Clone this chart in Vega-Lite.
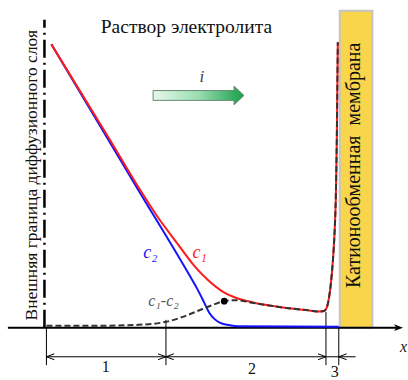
{
  "$schema": "https://vega.github.io/schema/vega-lite/v6.json",
  "width": 408,
  "height": 380,
  "autosize": {"type": "fit", "contains": "padding"},
  "padding": 0,
  "background": "white",
  "config": {"view": {"stroke": null}},
  "datasets": {
    "membrane": [{"x": 299, "c": 0, "x2": 332, "c2": 322}],
    "arrow": [
      {"x": 110, "c": 241, "c2": 231},
      {"x": 191.9, "c": 241, "c2": 231},
      {"x": 192, "c": 245.5, "c2": 226.5},
      {"x": 202, "c": 236, "c2": 236}
    ],
    "axis": [{"x": -37, "c": 0, "x2": 356, "c2": 0}],
    "axisHead": [{"x": 358.5, "c": 0}],
    "boundary": [{"x": 0, "c": 0, "x2": 0, "c2": 313}],
    "dims": [
      {"x": 2, "c": 0, "x2": 2, "c2": -38},
      {"x": 123, "c": 8, "x2": 123, "c2": -38},
      {"x": 285, "c": 16, "x2": 285, "c2": -38},
      {"x": 298, "c": 0, "x2": 298, "c2": -38},
      {"x": 2, "c": -29.5, "x2": 315, "c2": -29.5},
      {"x": 2, "c": -29.5, "x2": 10, "c2": -26.5},
      {"x": 2, "c": -29.5, "x2": 10, "c2": -32.5},
      {"x": 123, "c": -29.5, "x2": 115, "c2": -26.5},
      {"x": 123, "c": -29.5, "x2": 115, "c2": -32.5},
      {"x": 123, "c": -29.5, "x2": 131, "c2": -26.5},
      {"x": 123, "c": -29.5, "x2": 131, "c2": -32.5},
      {"x": 285, "c": -29.5, "x2": 277, "c2": -26.5},
      {"x": 285, "c": -29.5, "x2": 277, "c2": -32.5},
      {"x": 298, "c": -29.5, "x2": 306, "c2": -26.5},
      {"x": 298, "c": -29.5, "x2": 306, "c2": -32.5}
    ],
    "blue": [
      {"x": 7, "c": 288}, {"x": 95, "c": 140}, {"x": 147, "c": 53}, {"x": 155, "c": 39},
      {"x": 162, "c": 25}, {"x": 167, "c": 15}, {"x": 172, "c": 9}, {"x": 178, "c": 5},
      {"x": 185, "c": 3}, {"x": 195, "c": 1.5}, {"x": 298, "c": 1}
    ],
    "red": [
      {"x": 7, "c": 288}, {"x": 65, "c": 193}, {"x": 95, "c": 143}, {"x": 115, "c": 112},
      {"x": 135, "c": 85}, {"x": 150, "c": 65}, {"x": 165, "c": 49}, {"x": 180, "c": 37},
      {"x": 195, "c": 30}, {"x": 210, "c": 26}, {"x": 225, "c": 23}, {"x": 245, "c": 20},
      {"x": 265, "c": 18}, {"x": 278, "c": 16.5}, {"x": 283, "c": 17}, {"x": 286, "c": 21},
      {"x": 288, "c": 30}, {"x": 290, "c": 45}, {"x": 292, "c": 68}, {"x": 294, "c": 103},
      {"x": 295, "c": 133}, {"x": 296, "c": 193}, {"x": 296.5, "c": 243}, {"x": 297, "c": 290}
    ],
    "diff": [
      {"x": 2, "c": 2}, {"x": 55, "c": 2}, {"x": 95, "c": 3}, {"x": 123, "c": 6},
      {"x": 140, "c": 11}, {"x": 155, "c": 17}, {"x": 170, "c": 23}, {"x": 182, "c": 27},
      {"x": 195, "c": 28}, {"x": 210, "c": 25.5}, {"x": 225, "c": 23}, {"x": 245, "c": 20},
      {"x": 265, "c": 18}, {"x": 278, "c": 16.5}, {"x": 283, "c": 17}, {"x": 286, "c": 21},
      {"x": 288, "c": 30}, {"x": 290, "c": 45}, {"x": 292, "c": 68}, {"x": 294, "c": 103},
      {"x": 295, "c": 133}, {"x": 296, "c": 193}, {"x": 296.5, "c": 243}, {"x": 297, "c": 290}
    ],
    "dot": [{"x": 182, "c": 27}],
    "topText": [{"t": "Раствор электролита", "x": 57, "c": 299}],
    "leftText": [{"t": "Внешняя граница диффузионного слоя", "x": -8, "c": 155}],
    "memText": [{"t": "Катионообменная\u00a0 мембрана", "x": 319, "c": 165}],
    "iText": [{"t": "i", "x": 157, "c": 250}],
    "c2Text": [{"t": "c₂", "x": 100, "c": 71}],
    "c1Text": [{"t": "c₁", "x": 150, "c": 71}],
    "diffText": [{"t": "c₁-c₂", "x": 105, "c": 22}],
    "digits": [{"t": "1", "x": 62, "c": -45}, {"t": "2", "x": 210, "c": -47}, {"t": "3", "x": 294, "c": -50}],
    "xText": [{"t": "x", "x": 360, "c": -25}]
  },
  "encoding": {
    "x": {"field": "x", "type": "quantitative", "scale": {"domain": [-45, 363], "nice": false, "zero": false}, "axis": null},
    "y": {"field": "c", "type": "quantitative", "scale": {"domain": [-47, 333], "nice": false, "zero": false}, "axis": null}
  },
  "layer": [
    {
      "data": {"name": "membrane"},
      "mark": {"type": "rect", "fill": "#F9D54B", "stroke": "#C4C4C4", "strokeWidth": 2},
      "encoding": {"x2": {"field": "x2"}, "y2": {"field": "c2"}}
    },
    {
      "data": {"name": "memText"},
      "mark": {"type": "text", "font": "Liberation Serif", "fontSize": 20, "angle": 270, "align": "center", "baseline": "alphabetic", "color": "#111"},
      "encoding": {"text": {"field": "t"}}
    },
    {
      "data": {"name": "leftText"},
      "mark": {"type": "text", "font": "Liberation Serif", "fontSize": 17.5, "angle": 270, "align": "center", "baseline": "alphabetic", "color": "#111"},
      "encoding": {"text": {"field": "t"}}
    },
    {
      "data": {"name": "topText"},
      "mark": {"type": "text", "font": "Liberation Serif", "fontSize": 19.5, "align": "left", "baseline": "alphabetic", "color": "#111"},
      "encoding": {"text": {"field": "t"}}
    },
    {
      "data": {"name": "iText"},
      "mark": {"type": "text", "font": "Liberation Serif", "fontSize": 17, "fontStyle": "italic", "align": "left", "baseline": "alphabetic", "color": "#444"},
      "encoding": {"text": {"field": "t"}}
    },
    {
      "data": {"name": "arrow"},
      "mark": {
        "type": "area",
        "stroke": "#6B8A74",
        "strokeWidth": 1,
        "fill": {"gradient": "linear", "x1": 0, "x2": 1, "y1": 0, "y2": 0,
          "stops": [{"offset": 0, "color": "#E6F7EB"}, {"offset": 0.5, "color": "#9ADDB0"}, {"offset": 1, "color": "#17A04A"}]},
        "opacity": 1
      },
      "encoding": {"y2": {"field": "c2"}}
    },
    {
      "data": {"name": "axis"},
      "mark": {"type": "rule", "color": "black", "strokeWidth": 2},
      "encoding": {"x2": {"field": "x2"}, "y2": {"field": "c2"}}
    },
    {
      "data": {"name": "axisHead"},
      "mark": {"type": "point", "shape": "M1,0L-1,-0.75L-0.5,0L-1,0.75Z", "filled": true, "size": 81, "color": "black", "opacity": 1},
      "encoding": {}
    },
    {
      "data": {"name": "boundary"},
      "mark": {"type": "rule", "color": "black", "strokeWidth": 2.5, "strokeDash": [18, 5, 2, 5]},
      "encoding": {"x2": {"field": "x2"}, "y2": {"field": "c2"}}
    },
    {
      "data": {"name": "dims"},
      "mark": {"type": "rule", "color": "black", "strokeWidth": 1},
      "encoding": {"x2": {"field": "x2"}, "y2": {"field": "c2"}}
    },
    {
      "data": {"name": "blue"},
      "mark": {"type": "line", "color": "#1414FF", "strokeWidth": 2, "interpolate": "monotone"},
      "encoding": {}
    },
    {
      "data": {"name": "red"},
      "mark": {"type": "line", "color": "#FF1A1A", "strokeWidth": 2, "interpolate": "monotone"},
      "encoding": {}
    },
    {
      "data": {"name": "diff"},
      "mark": {"type": "line", "color": "#333333", "strokeWidth": 2, "strokeDash": [6, 3], "interpolate": "monotone"},
      "encoding": {}
    },
    {
      "data": {"name": "dot"},
      "mark": {"type": "circle", "size": 45, "color": "black", "opacity": 1},
      "encoding": {}
    },
    {
      "data": {"name": "c2Text"},
      "mark": {"type": "text", "font": "Liberation Serif", "fontSize": 18, "fontStyle": "italic", "align": "left", "baseline": "alphabetic", "color": "#1414FF"},
      "encoding": {"text": {"field": "t"}}
    },
    {
      "data": {"name": "c1Text"},
      "mark": {"type": "text", "font": "Liberation Serif", "fontSize": 18, "fontStyle": "italic", "align": "left", "baseline": "alphabetic", "color": "#FF1A1A"},
      "encoding": {"text": {"field": "t"}}
    },
    {
      "data": {"name": "diffText"},
      "mark": {"type": "text", "font": "Liberation Serif", "fontSize": 16, "fontStyle": "italic", "align": "left", "baseline": "alphabetic", "color": "#555555"},
      "encoding": {"text": {"field": "t"}}
    },
    {
      "data": {"name": "digits"},
      "mark": {"type": "text", "font": "Liberation Serif", "fontSize": 16, "align": "center", "baseline": "alphabetic", "color": "#111"},
      "encoding": {"text": {"field": "t"}}
    },
    {
      "data": {"name": "xText"},
      "mark": {"type": "text", "font": "Liberation Serif", "fontSize": 16, "fontStyle": "italic", "align": "left", "baseline": "alphabetic", "color": "#222"},
      "encoding": {"text": {"field": "t"}}
    }
  ]
}
